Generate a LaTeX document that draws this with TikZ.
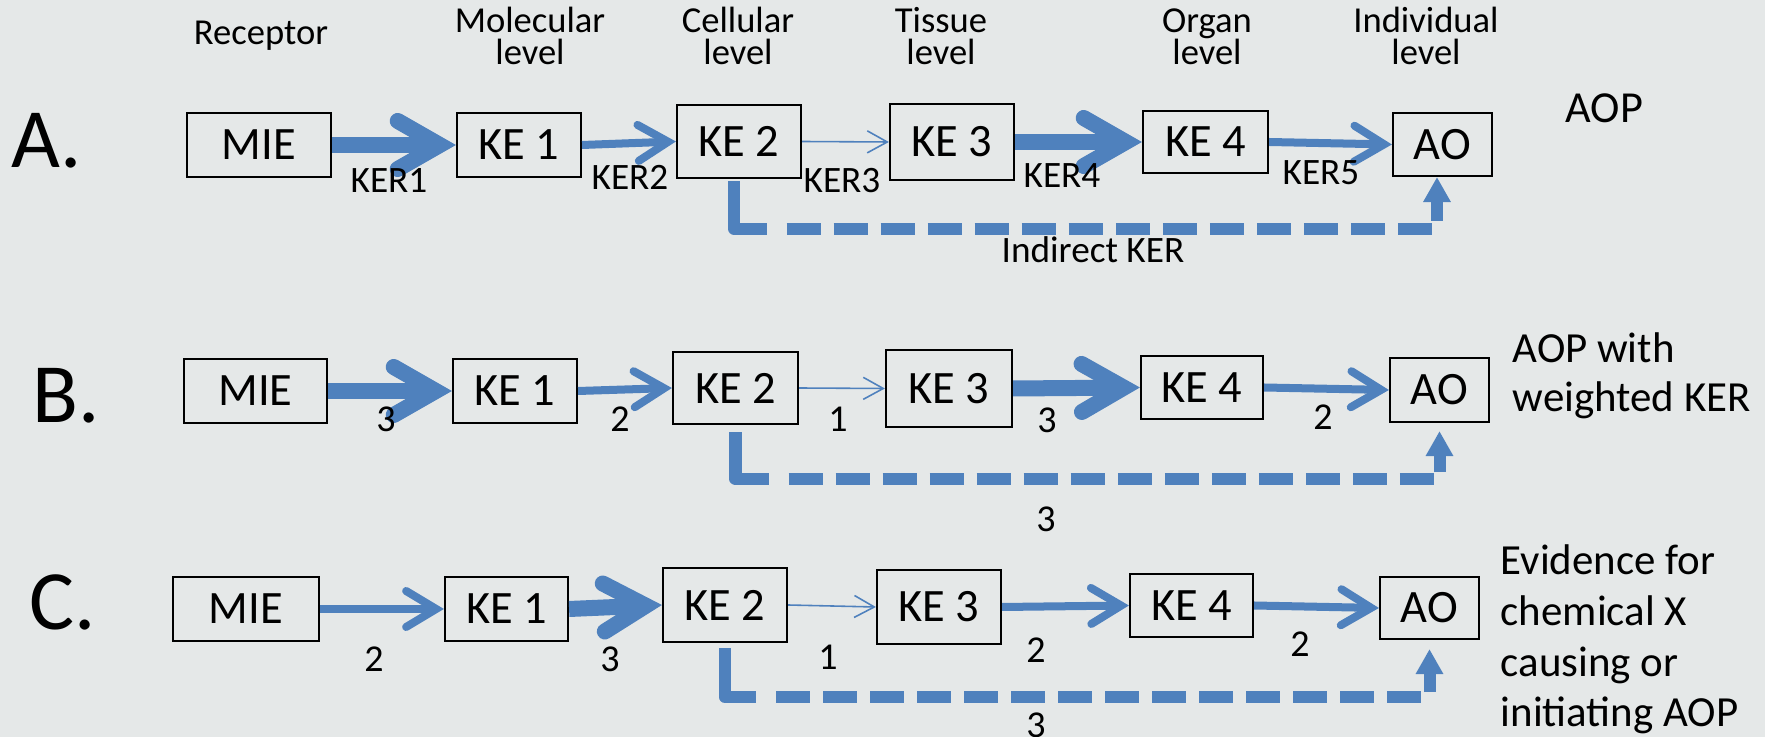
\documentclass[tikz,border=0pt]{standalone}
\usepackage{fontspec}
\setmainfont{Carlito}
\usetikzlibrary{arrows.meta}

\definecolor{kerblue}{RGB}{79,129,189}
\definecolor{slidegray}{RGB}{229,232,232}

\begin{document}
\begin{tikzpicture}[x=0.01cm, y=-0.01cm,
  event/.style 2 args={draw, line width=0.6pt, inner sep=0pt,
    minimum width=#1, minimum height=#2, font=\fontsize{13.2}{15}\selectfont},
  tier/.style={align=center, anchor=base, inner sep=0pt, font=\fontsize{10.4}{9.1}\selectfont},
  kerlabel/.style={anchor=base, inner sep=0pt, font=\fontsize{10.6}{12}\selectfont},
  kerweight/.style={anchor=base, inner sep=0pt, font=\fontsize{10.8}{12}\selectfont},
  rowlabel/.style={anchor=base west, inner sep=0pt, font=\fontsize{24}{28}\selectfont},
  note/.style={anchor=base west, align=left, inner sep=0pt, font=\fontsize{12.2}{14}\selectfont},
  ker3/.style={draw=kerblue, line width=0.16cm,
    -{Straight Barb[length=0.42cm, width=0.48cm, line cap=round, line join=miter]}},
  ker2/.style={draw=kerblue, line width=0.08cm,
    -{Straight Barb[length=0.3cm, width=0.36cm, line cap=round, line join=miter]}},
  ker1/.style={draw=kerblue, line width=0.45pt,
    -{Straight Barb[length=0.2cm, width=0.22cm]}},
  % first stroke runs down and round the corner, then regular dashes
  indirect/.style={draw=kerblue, line width=0.12cm, line join=round,
    dash pattern=on 0.8cm off 0.2cm on 0.34cm off 0.13cm on 0.34cm off 0.13cm
      on 0.34cm off 0.13cm on 0.34cm off 0.13cm on 0.34cm off 0.13cm
      on 0.34cm off 0.13cm on 0.34cm off 0.13cm on 0.34cm off 0.13cm
      on 0.34cm off 0.13cm on 0.34cm off 0.13cm on 0.34cm off 0.13cm
      on 0.34cm off 0.13cm on 0.34cm off 0.13cm on 0.34cm off 0.13cm
      on 0.34cm off 0.13cm on 0.4cm off 0.13cm,
    -{Triangle[length=0.25cm, width=0.26cm]}}]

  % slide background
  \fill[slidegray] (0,0) rectangle (1765,737);
  \useasboundingbox (0,0) rectangle (1765,737);

  % biological levels on top
  \node[tier] (receptor) at (261,45) {Receptor};
  \node[tier] (molecular) at (530,65) {Molecular\\level};
  \node[tier] (cellular) at (738,65) {Cellular\\level};
  \node[tier] (tissue) at (941,65) {Tissue\\level};
  \node[tier] (organ) at (1207,65) {Organ\\level};
  \node[tier] (individual) at (1426,65) {Individual\\level};

  % A. the plain pathway
  \node[rowlabel] (rowa) at (11,168) {A.};
  \node[event={1.44cm}{0.64cm}] (miea) at (259,145) {MIE};
  \node[event={1.24cm}{0.64cm}] (ke1a) at (519,145) {KE 1};
  \node[event={1.24cm}{0.73cm}] (ke2a) at (739,141.5) {KE 2};
  \node[event={1.24cm}{0.76cm}] (ke3a) at (952,142) {KE 3};
  \node[event={1.25cm}{0.62cm}] (ke4a) at (1205.5,142) {KE 4};
  \node[event={0.99cm}{0.63cm}] (aoa) at (1442.5,144.5) {AO};

  \draw[ker3] (miea.east) -- (ke1a.west);
  \draw[ker2] (ke1a.east) -- (ke2a.west);
  \draw[ker1] (ke2a.east) -- (ke3a.west);
  \draw[ker3] (ke3a.east) -- (ke4a.west);
  \draw[ker2] (ke4a.east) -- (aoa.west);
  \draw[indirect, shorten <=0.02cm] ([xshift=-0.05cm]ke2a.south) -- ++(0,49.5) -| ([xshift=-0.055cm]aoa.south);

  \node[kerlabel] (ker1) at (389,193) {KER1};
  \node[kerlabel] (ker2) at (630,190) {KER2};
  \node[kerlabel] (ker3) at (842,193) {KER3};
  \node[kerlabel] (ker4) at (1062,188) {KER4};
  \node[kerlabel] (ker5) at (1321,185) {KER5};
  \node[kerlabel] (indirectker) at (1093,263) {Indirect KER};
  \node[note, font=\fontsize{12.6}{14}\selectfont] (aop) at (1565,123) {AOP};

  % B. same pathway, KERs weighted
  \node[rowlabel] (rowb) at (32,423) {B.};
  \node[event={1.43cm}{0.64cm}] (mieb) at (255.5,391) {MIE};
  \node[event={1.24cm}{0.64cm}] (ke1b) at (515,391) {KE 1};
  \node[event={1.25cm}{0.72cm}] (ke2b) at (735.5,388) {KE 2};
  \node[event={1.26cm}{0.77cm}] (ke3b) at (949,388.5) {KE 3};
  \node[event={1.22cm}{0.63cm}] (ke4b) at (1202,387.5) {KE 4};
  \node[event={0.99cm}{0.64cm}] (aob) at (1439.5,390) {AO};

  \draw[ker3] (mieb.east) -- (ke1b.west);
  \draw[ker2] (ke1b.east) -- (ke2b.west);
  \draw[ker1] (ke2b.east) -- (ke3b.west);
  \draw[ker3] (ke3b.east) -- (ke4b.west);
  \draw[ker2] (ke4b.east) -- (aob.west);
  \draw[indirect, shorten <=0.07cm, shorten >=0.08cm] (ke2b.south) -- ++(0,54) -| (aob.south);

  \node[kerweight] (wb1) at (386,432) {3};
  \node[kerweight] (wb2) at (620,432) {2};
  \node[kerweight] (wb3) at (838,432) {1};
  \node[kerweight] (wb4) at (1047,433) {3};
  \node[kerweight] (wb5) at (1323,430) {2};
  \node[kerweight] (wb6) at (1046,532) {3};
  \node[note] (weighted) at (1512,412) {AOP with\\weighted KER};

  % C. weights for chemical X
  \node[rowlabel] (rowc) at (29,630) {C.};
  \node[event={1.46cm}{0.64cm}] (miec) at (246,609) {MIE};
  \node[event={1.23cm}{0.64cm}] (ke1c) at (506.5,609) {KE 1};
  \node[event={1.24cm}{0.74cm}] (ke2c) at (725,605) {KE 2};
  \node[event={1.24cm}{0.74cm}] (ke3c) at (939,607) {KE 3};
  \node[event={1.23cm}{0.63cm}] (ke4c) at (1191.5,605.5) {KE 4};
  \node[event={0.99cm}{0.62cm}] (aoc) at (1429.5,608) {AO};

  \draw[ker2] (miec.east) -- (ke1c.west);
  \draw[ker3] (ke1c.east) -- (ke2c.west);
  \draw[ker1] (ke2c.east) -- (ke3c.west);
  \draw[ker2] (ke3c.east) -- (ke4c.west);
  \draw[ker2] (ke4c.east) -- (aoc.west);
  \draw[indirect, shorten <=0.05cm, shorten >=0.09cm] (ke2c.south) -- ++(0,54) -| (aoc.south);

  \node[kerweight] (wc1) at (374,672) {2};
  \node[kerweight] (wc2) at (610,672) {3};
  \node[kerweight] (wc3) at (828,670) {1};
  \node[kerweight] (wc4) at (1036,663) {2};
  \node[kerweight] (wc5) at (1300,657) {2};
  \node[kerweight] (wc6) at (1036,738) {3};
  \node[note, font=\fontsize{12.2}{14.5}\selectfont] (evidence) at (1500,727)
    {Evidence for\\chemical X\\causing or\\initiating AOP};

\end{tikzpicture}
\end{document}
